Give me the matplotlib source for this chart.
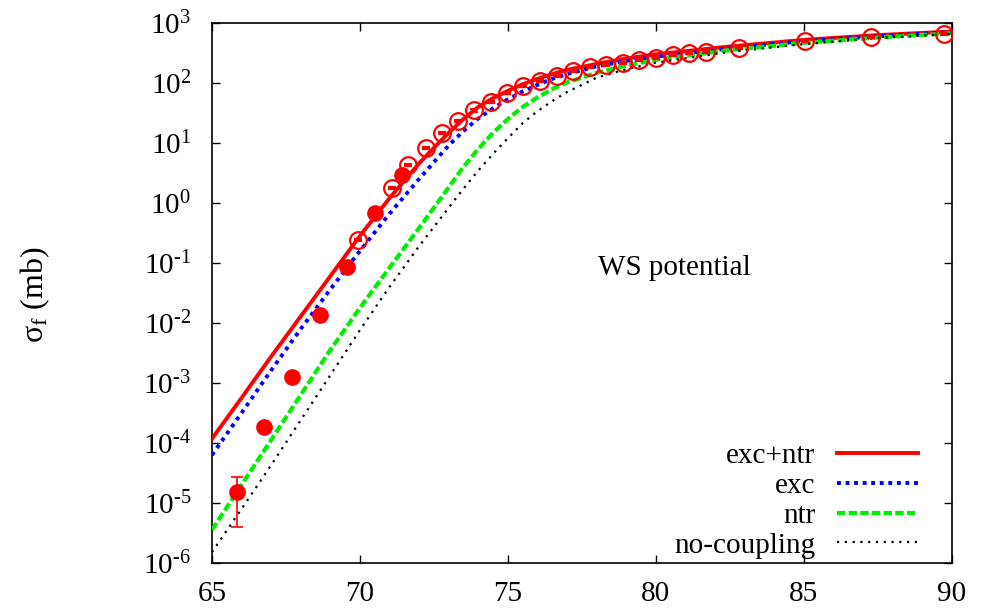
import numpy as np
import matplotlib
matplotlib.use('Agg')
import matplotlib.pyplot as plt
from matplotlib.ticker import FixedLocator, FixedFormatter

plt.rcParams['font.family'] = ['Liberation Serif', 'DejaVu Serif']
plt.rcParams['mathtext.fontset'] = 'custom'
plt.rcParams['mathtext.rm'] = 'Liberation Serif'
plt.rcParams['mathtext.it'] = 'Liberation Serif:italic'

# calculated curves, given as log10 of the cross section in mb
x_curve = [65, 66, 67, 68, 69, 70, 71, 72, 72.5, 73, 73.5, 74, 74.5, 75, 75.5, 76, 76.5, 77,
           78, 79, 80, 82.5, 85, 87.5, 90]
exc_ntr_log = [-3.93, -3.25, -2.56, -1.89, -1.22, -0.55, 0.08, 0.66, 0.92, 1.17, 1.4, 1.6, 1.75, 1.87,
               1.98, 2.07, 2.15, 2.22, 2.32, 2.41, 2.48, 2.61, 2.72, 2.8, 2.86]
exc_log = [-4.2, -3.5, -2.79, -2.1, -1.44, -0.8, -0.18, 0.4, 0.68, 0.96, 1.2, 1.41, 1.58, 1.73,
           1.86, 1.97, 2.07, 2.15, 2.28, 2.37, 2.44, 2.58, 2.7, 2.78, 2.85]
ntr_log = [-5.45, -4.7, -3.95, -3.2, -2.45, -1.75, -1.08, -0.42, -0.08, 0.26, 0.6, 0.9, 1.17, 1.4,
           1.6, 1.76, 1.9, 2.01, 2.17, 2.29, 2.39, 2.55, 2.67, 2.76, 2.83]
no_coupling_log = [-5.82, -5.1, -4.37, -3.62, -2.87, -2.12, -1.4, -0.72, -0.4, -0.08, 0.24, 0.54, 0.82, 1.08,
                   1.33, 1.53, 1.7, 1.85, 2.09, 2.23, 2.34, 2.52, 2.65, 2.75, 2.82]

# experimental data, filled circles
x_filled = [65.84, 66.76, 67.7, 68.65, 69.56, 70.5, 71.42]
y_filled = [1.5e-5, 1.85e-4, 1.26e-3, 1.35e-2, 8.5e-2, 0.68, 2.95]
err_low = [1.1e-5, 0, 0, 0, 0, 0, 0]
err_high = [1.2e-5, 0, 0, 0, 0, 0, 0]

# experimental data, open circles
x_open = [69.93, 71.1, 71.62, 72.23, 72.77, 73.31, 73.85, 74.43, 74.96, 75.5, 76.08, 76.65, 77.2,
          77.77, 78.31, 78.89, 79.43, 80.0, 80.57, 81.11, 81.69, 82.8, 85.03, 87.26, 89.76]
y_open = [0.24, 1.78, 4.3, 8.3, 14.7, 23, 35, 48, 68, 89, 107, 131, 158,
          186, 200, 220, 240, 263, 295, 316, 331, 380, 500, 589, 661]

fig = plt.figure(figsize=(9.81, 6.08), dpi=100)
ax = fig.add_axes([0.216, 0.074, 0.754, 0.888])

ax.plot(x_curve, 10.0 ** np.array(exc_ntr_log), color='red', lw=2.8, label='exc+ntr', zorder=3)
ax.plot(x_curve, 10.0 ** np.array(exc_log), color='blue', lw=2.8, ls=(0, (1, 1.2)), label='exc', zorder=3)
ax.plot(x_curve, 10.0 ** np.array(ntr_log), color='#00ee00', lw=3, ls=(0, (2, 0.8)), label='ntr', zorder=3)
ax.plot(x_curve, 10.0 ** np.array(no_coupling_log), color='black', lw=1.6, ls=(0, (1, 2.5)),
        label='no-coupling', zorder=3)

ax.errorbar(x_filled, y_filled, yerr=[err_low, err_high], fmt='o', color='red', ms=11,
            ecolor='red', elinewidth=1.2, capsize=4, capthick=1.2, zorder=4)
ax.errorbar(x_open, y_open, yerr=[[v * 0.04 for v in y_open], [v * 0.04 for v in y_open]],
            fmt='o', mfc='none', mec='red', color='red', ms=12, mew=1.6,
            ecolor='red', elinewidth=1.2, capsize=3, capthick=1.5, zorder=4)

ax.set_yscale('log')
ax.set_xlim(65, 90)
ax.set_ylim(1e-6, 1e3)

ax.xaxis.set_major_locator(FixedLocator([65, 70, 75, 80, 85, 90]))
ax.xaxis.set_major_formatter(FixedFormatter(['65', '70', '75', '80', '85', '90']))
yt = [1e-6, 1e-5, 1e-4, 1e-3, 1e-2, 1e-1, 1e0, 1e1, 1e2, 1e3]
ylabels = [r'10$^{\text{%d}}$' % e for e in range(-6, 4)]
ax.yaxis.set_major_locator(FixedLocator(yt))
ax.yaxis.set_major_formatter(FixedFormatter(ylabels))
ax.yaxis.set_minor_locator(FixedLocator([]))

ax.tick_params(which='both', direction='in', top=True, right=True, length=6, width=1,
               labelsize=21)
ax.tick_params(axis='x', pad=13)
ax.tick_params(axis='y', pad=15)
for s in ax.spines.values():
    s.set_linewidth(1.2)

fig.text(0.036, 0.515, r'σ$_{\mathrm{f}}$ (mb)', rotation=90, fontsize=23, va='center', ha='center')
ax.text(0.522, 0.546, 'WS potential', transform=ax.transAxes, fontsize=21, va='center', ha='left')

ax.legend(loc='lower right', bbox_to_anchor=(0.954, 0.008), frameon=False, markerfirst=False,
          fontsize=21, handlelength=2.75, handletextpad=0.75, labelspacing=0.12,
          borderpad=0, borderaxespad=0)

fig.savefig('out.png', dpi=100)
